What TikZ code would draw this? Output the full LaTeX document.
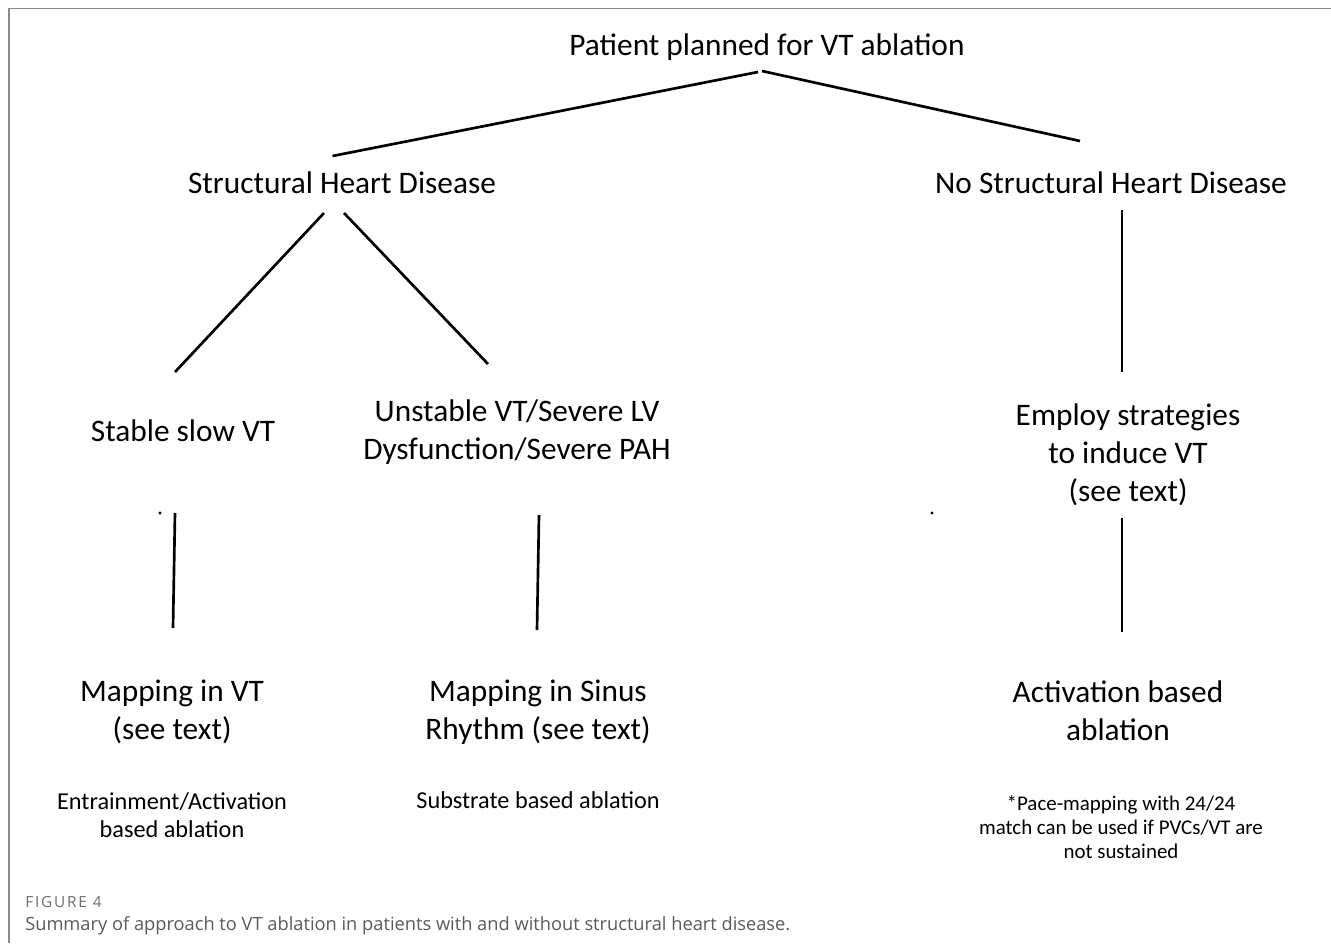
\documentclass[tikz,border=0pt]{standalone}
\usepackage{fontspec}
\setmainfont{Carlito}
\newfontfamily\capfont{Open Sans}
\usepackage{tikz}
\usetikzlibrary{positioning}

\definecolor{framegray}{HTML}{8A8A8A}
\definecolor{figgray}{HTML}{6E6E6E}
\definecolor{capgray}{HTML}{5A5A5A}

\begin{document}
\begin{tikzpicture}[x=0.75pt,y=-0.75pt,
    box/.style={anchor=base,align=center,inner sep=0pt,font=\fontsize{23.5}{28.5}\selectfont},
    note/.style={anchor=base,align=center,inner sep=0pt,font=\fontsize{18.2}{21}\selectfont},
    link/.style={line width=2pt},
    speck/.style={circle,fill=black,inner sep=0pt,minimum size=2.5pt}]
    \useasboundingbox (0,0) rectangle (1331,943);

    % frame
    \draw [framegray,line width=1.2pt] (1331,8.5) -- (9,8.5) -- (9,943);

    % tree (base = last line)
    \node [box] (top) at (767,55) {Patient planned for VT ablation};
    \node [box] (shd) at (342,193) {Structural Heart Disease};
    \node [box] (nshd) at (1111,193) {No Structural Heart Disease};
    \node [box] (stable) at (183,441) {Stable slow VT};
    \node [box] (unstable) at (517,459) {Unstable VT/Severe LV\\Dysfunction/Severe PAH};
    \node [box] (employ) at (1128,501) {Employ strategies\\to induce VT\\(see text)};
    \node [box] (mapvt) at (172,739) {Mapping in VT\\(see text)};
    \node [box] (mapsr) at (538,739) {Mapping in Sinus\\Rhythm (see text)};
    \node [box] (act) at (1118,740) {Activation based\\ablation};

    \node [note] (entr) at (172,837) {Entrainment/Activation\\based ablation};
    \node [note] (subs) at (538,808) {Substrate based ablation};
    \node [note,font=\fontsize{15.7}{18}\selectfont] (pace) at (1121,858)
        {*Pace-mapping with 24/24\\match can be used if PVCs/VT are\\not sustained};

    \node [speck] (speckA) at (160,513) {};
    \node [speck] (speckB) at (932,513) {};

    % connectors
    \draw [link] ([shift={(-9.5,-37)}]shd.base) -- ([shift={(-9,17)}]top.base);
    \draw [link] ([shift={(-5,16)}]top.base) -- ([shift={(-31,-52)}]nshd.base);
    \draw [link] ([shift={(-18,20)}]shd.base) -- ([shift={(-8,-69)}]stable.base);
    \draw [link] ([shift={(2,20)}]shd.base) -- ([shift={(-29,-95)}]unstable.base);
    \draw [link] ([shift={(11,17)}]nshd.base) -- ([shift={(-6,-129)}]employ.base);
    \draw [link] ([shift={(-8,72)}]stable.base) -- ([shift={(1,-111)}]mapvt.base);
    \draw [link] ([shift={(22,56)}]unstable.base) -- ([shift={(-1,-109)}]mapsr.base);
    \draw [link] ([shift={(-6,17)}]employ.base) -- ([shift={(4,-108)}]act.base);

    % caption
    \node [anchor=base west,inner sep=0pt,text=figgray,font=\capfont\addfontfeature{LetterSpace=12}\fontsize{11.5}{14}\selectfont] (figlabel) at (25,907) {FIGURE 4};
    \node [anchor=base west,inner sep=0pt,text=capgray,font=\capfont\fontsize{13.7}{16}\selectfont] (caption) at (25,930)
        {Summary of approach to VT ablation in patients with and without structural heart disease.};
\end{tikzpicture}
\end{document}
